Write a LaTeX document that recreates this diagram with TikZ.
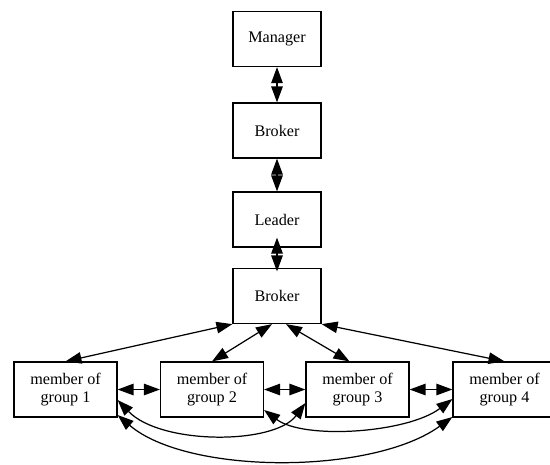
\documentclass[tikz,border=0pt]{standalone}
\usepackage{fontspec}
\setmainfont{Liberation Serif}
\usetikzlibrary{arrows.meta}

\begin{document}
\begin{tikzpicture}[x=0.02cm, y=-0.02cm,
    box/.style={draw, line width=0.7pt, inner sep=0pt, align=center,
        minimum width=1.76cm, minimum height=1.1cm,
        font=\fontsize{9.2}{10.6}\selectfont},
    memberbox/.style={box, minimum width=2.06cm},
    link/.style={line width=0.7pt, {Triangle[length=0.32cm,width=0.23cm]}-{Triangle[length=0.32cm,width=0.23cm]}}]
    \useasboundingbox (0,0) rectangle (550,464);

    % The chain at the top
    \node[box] (manager) at (277,39) {Manager};
    \node[box] (broker1) at (277,130.5) {Broker};
    \node[box] (leader) at (277,219.5) {Leader};
    \node[box] (broker2) at (277,296) {Broker};

    % The group members
    \node[memberbox] (m1) at (65.5,389.5) {member of\\group 1};
    \node[memberbox] (m2) at (212,389.5) {member of\\group 2};
    \node[memberbox] (m3) at (357.5,389.5) {member of\\group 3};
    \node[memberbox] (m4) at (504.5,389.5) {member of\\group 4};

    % Links down the chain
    \draw[link] (manager) -- (broker1);
    \draw[link] (broker1) -- (leader);
    \draw[link] ([yshift=0.2cm]leader.south) -- ([yshift=-0.07cm]broker2.north);

    % Broker to each member
    \draw[link] (broker2.south west) -- (m1.north);
    \draw[link] ([xshift=-0.1cm]broker2.south) -- (m2.north);
    \draw[link] ([xshift=0.18cm]broker2.south) -- ([xshift=-0.16cm]m3.north);
    \draw[link] (broker2.south east) -- (m4.north);

    % Neighbouring members
    \draw[link] (m1) -- (m2);
    \draw[link] (m2) -- (m3);
    \draw[link] (m3) -- (m4);

    % Curved links below
    \draw[link] ([yshift=-0.21cm]m1.east) .. controls +(43,45) and +(-31,42) .. ([yshift=-0.27cm]m3.west);
    \draw[link] ([yshift=-0.41cm]m2.east) .. controls +(40,30) and +(-45,34) .. ([yshift=-0.19cm]m4.west);
    \draw[link] ([yshift=-0.51cm]m1.east) .. controls +(70,60) and +(-80,58) .. ([yshift=-0.55cm]m4.west);
\end{tikzpicture}
\end{document}
